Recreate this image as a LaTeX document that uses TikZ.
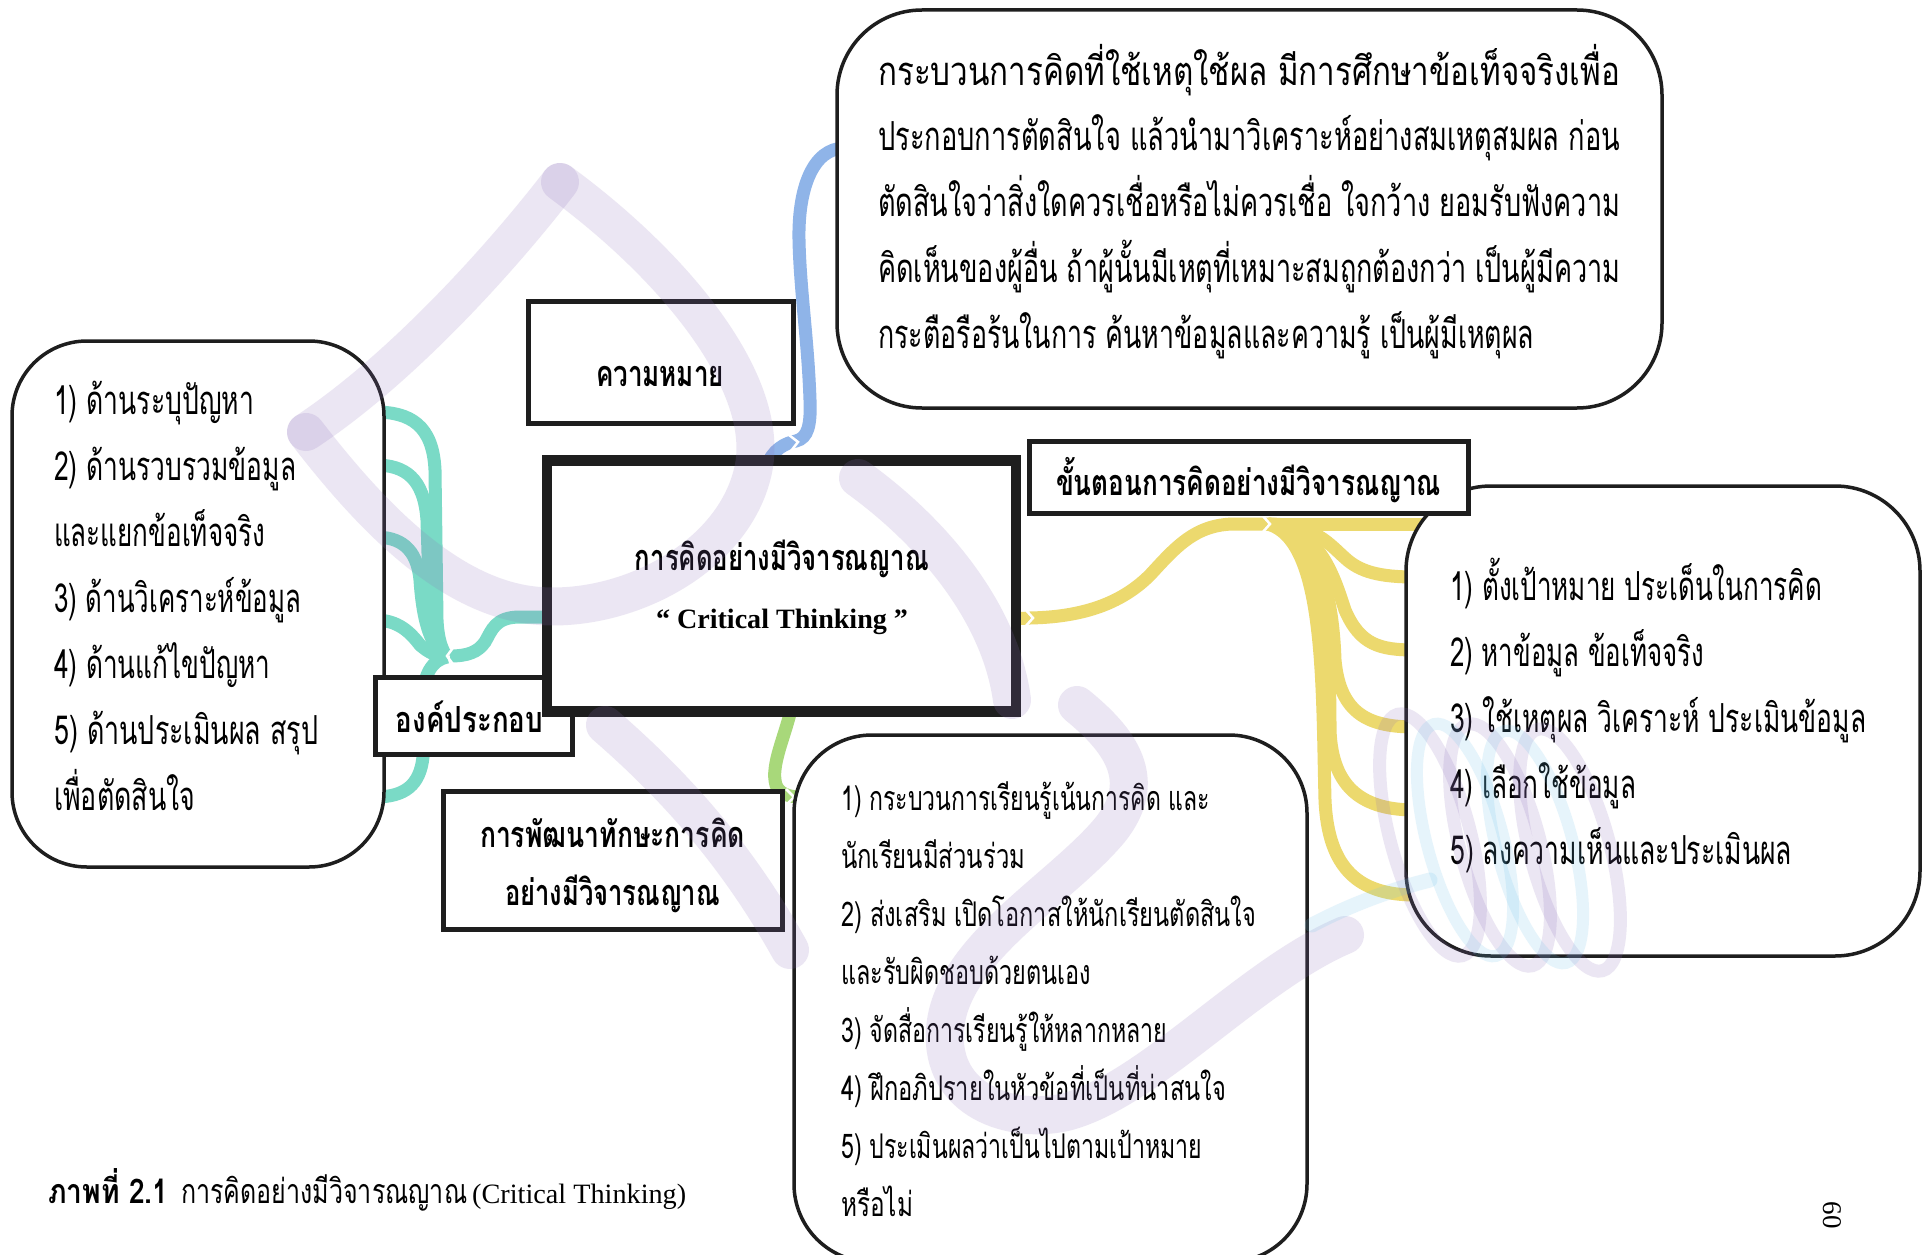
\documentclass[tikz,border=0pt]{standalone}
\usepackage{fontspec}
\usepackage{graphicx}
\setmainfont{Liberation Serif}
\newfontfamily\thr[Script=Thai]{Loma}
\usetikzlibrary{calc}
\definecolor{cblue}{RGB}{143,180,232}
\definecolor{cteal}{RGB}{122,218,198}
\definecolor{cyel}{RGB}{236,217,110}
\definecolor{cgreen}{RGB}{168,216,122}
\definecolor{wmlav}{RGB}{140,110,185}
\definecolor{wmblue}{RGB}{110,195,235}
\definecolor{ink}{RGB}{30,30,30}
\newcommand\fw[2]{\resizebox{#1pt}{\height}{#2}}
\tikzset{
  branch/.style={line width=13pt, line cap=butt},
  notch/.style={draw=white, line width=2.5pt},
  sqbox/.style={draw=ink, line width=5pt, fill=white, inner sep=0pt},
  rbox/.style={draw=ink, line width=3.5pt, fill=white, inner sep=0pt, rounded corners=85pt},
  wm/.style={draw=wmlav, line width=38pt, opacity=0.17, line cap=round},
  txt/.style={anchor=base west, inner sep=0pt, font={\thr\fontsize{40}{40}\selectfont}},
  stxt/.style={anchor=base west, inner sep=0pt, font={\thr\fontsize{34}{34}\selectfont}},
  btxt/.style={anchor=base, inner sep=0pt, font={\thr\bfseries\fontsize{36}{36}\selectfont}},
}
\begin{document}
\begin{tikzpicture}[x=1pt,y=-1pt]
\useasboundingbox (0,0) rectangle (1922,1255);
\fill[white] (0,0) rectangle (1922,1255);

% ---------- connectors ----------
\draw[branch, cblue] (767,466) .. controls (772,450) and (785,443) .. (796,441)
   .. controls (808,438) and (811,425) .. (810,400)
   .. controls (808,340) and (800,290) .. (799,240)
   .. controls (798,190) and (812,148) .. (845,148);
\draw[branch, cteal] (552,617) -- (520,617) .. controls (495,617) and (492,630) .. (485,642)
   .. controls (478,652) and (468,656) .. (450,656);
\draw[branch, cteal] (375,412) .. controls (410,412) and (433,425) .. (435,470) -- (437,620) .. controls (438,640) and (442,650) .. (447,657);
\draw[branch, cteal] (375,465) .. controls (405,465) and (424,478) .. (427,520) -- (430,620) .. controls (432,640) and (438,652) .. (447,657);
\draw[branch, cteal] (375,537) .. controls (400,537) and (417,548) .. (420,580) .. controls (423,625) and (432,648) .. (447,657);
\draw[branch, cteal] (375,620) .. controls (398,620) and (410,632) .. (420,645) .. controls (428,652) and (437,657) .. (447,657);
\draw[branch, cteal] (375,797) .. controls (405,797) and (420,785) .. (423,757) -- (423,700) .. controls (423,675) and (432,660) .. (447,657);
\draw[branch, cyel] (1010,619) -- (1030,618) .. controls (1080,617) and (1120,605) .. (1150,575)
   .. controls (1175,548) and (1195,524) .. (1235,524) -- (1268,524);
\draw[branch, cyel] (1268,524) -- (1422,524);
\draw[branch, cyel] (1268,524) .. controls (1315,524) and (1330,545) .. (1345,558) .. controls (1360,572) and (1380,577) .. (1415,577);
\draw[branch, cyel] (1268,524) .. controls (1320,526) and (1335,580) .. (1345,610) .. controls (1360,645) and (1380,650) .. (1415,650);
\draw[branch, cyel] (1268,524) .. controls (1320,530) and (1333,600) .. (1335,660) .. controls (1340,715) and (1370,727) .. (1415,727);
\draw[branch, cyel] (1268,524) .. controls (1325,535) and (1330,640) .. (1330,730) .. controls (1332,790) and (1365,810) .. (1415,810);
\draw[branch, cyel] (1268,524) .. controls (1325,540) and (1322,680) .. (1325,800) .. controls (1328,870) and (1360,895) .. (1415,895);
\draw[branch, cgreen] (792,705) .. controls (786,735) and (770,765) .. (776,785) .. controls (779,793) and (788,797) .. (800,797);
\draw[notch] (455,645) -- (447,656) -- (455,667);
\draw[notch] (1262,515) -- (1270,524) -- (1262,533);
\draw[notch] (1025,609) -- (1033,618) -- (1025,627);
\draw[notch] (789,435) -- (798,442) -- (791,451);
\draw[notch] (786,789) -- (794,797) -- (786,805);

% ---------- boxes ----------
\node[rbox, minimum width=825pt, minimum height=398pt] (meanbox) at (1249.5,209) {};
\node[rbox, minimum width=372pt, minimum height=526pt, rounded corners=75pt] (compbox) at (198,604) {};
\node[rbox, minimum width=514pt, minimum height=470pt] (stepbox) at (1663,721) {};
\node[rbox, minimum width=513pt, minimum height=527pt, rounded corners=78pt] (devbox) at (1050.5,998.5) {};
\node[sqbox, minimum width=197.5pt, minimum height=77pt] (comp) at (473.75,716) {};
\node[sqbox, minimum width=265pt, minimum height=122pt] (mean) at (661,362.5) {};
\node[sqbox, minimum width=439pt, minimum height=72pt] (steps) at (1248.5,477) {};
\node[sqbox, minimum width=339pt, minimum height=138.5pt] (dev) at (613,860.25) {};
\node[sqbox, line width=10.5pt, minimum width=469pt, minimum height=251pt] (ctr) at (781.5,586) {};

% ---------- texts ----------
\node[btxt] (ctrA) at (782,570) {\fw{294}{การคิดอย่างมีวิจารณญาณ}};
\node[anchor=base, inner sep=0pt, font={\bfseries\fontsize{28}{28}\selectfont}] (ctrB) at (782,628) {\fw{252}{“ Critical Thinking ”}};
\node[btxt] (meanT) at (660,386) {\fw{128}{ความหมาย}};
\node[btxt] (stepsT) at (1248.5,495) {\fw{385}{ขั้นตอนการคิดอย่างมีวิจารณญาณ}};
\node[btxt] (compT) at (469.5,732) {\fw{147}{องค์ประกอบ}};
\node[btxt] (devA) at (612.5,847) {\fw{265}{การพัฒนาทักษะการคิด}};
\node[btxt] (devB) at (612.5,905) {\fw{215}{อย่างมีวิจารณญาณ}};

\foreach \w/\t [count=\i from 0] in {742/กระบวนการคิดที่ใช้เหตุใช้ผล มีการศึกษาข้อเท็จจริงเพื่อ,
  742/ประกอบการตัดสินใจ แล้วนำมาวิเคราะห์อย่างสมเหตุสมผล ก่อน,
  742/ตัดสินใจว่าสิ่งใดควรเชื่อหรือไม่ควรเชื่อ ใจกว้าง ยอมรับฟังความ,
  742/คิดเห็นของผู้อื่น ถ้าผู้นั้นมีเหตุที่เหมาะสมถูกต้องกว่า เป็นผู้มีความ,
  656/กระตือรือร้นในการ ค้นหาข้อมูลและความรู้ เป็นผู้มีเหตุผล}
  \node[txt] (mt\i) at (878,{85+65.75*\i}) {\fw{\w}{\t}};

\foreach \w/\t [count=\i from 0] in {200/1) ด้านระบุปัญหา, 242/2) ด้านรวบรวมข้อมูล, 211/และแยกข้อเท็จจริง,
  247/3) ด้านวิเคราะห์ข้อมูล, 216/4) ด้านแก้ไขปัญหา, 264/5) ด้านประเมินผล สรุป, 141/เพื่อตัดสินใจ}
  \node[txt] (ct\i) at (54,{414+66*\i}) {\fw{\w}{\t}};

\foreach \w/\t [count=\i from 0] in {372/1) ตั้งเป้าหมาย ประเด็นในการคิด, 254/2) หาข้อมูล ข้อเท็จจริง,
  416/3) ใช้เหตุผล วิเคราะห์ ประเมินข้อมูล, 186/4) เลือกใช้ข้อมูล, 342/5) ลงความเห็นและประเมินผล}
  \node[txt] (st\i) at (1450,{600+66.2*\i}) {\fw{\w}{\t}};

\foreach \w/\t [count=\i from 0] in {369/1) กระบวนการเรียนรู้เน้นการคิด และ, 184/นักเรียนมีส่วนร่วม,
  415/2) ส่งเสริม เปิดโอกาสให้นักเรียนตัดสินใจ, 250/และรับผิดชอบด้วยตนเอง,
  326/3) จัดสื่อการเรียนรู้ให้หลากหลาย, 385/4) ฝึกอภิปรายในหัวข้อที่เป็นที่น่าสนใจ,
  361/5) ประเมินผลว่าเป็นไปตามเป้าหมาย, 72/หรือไม่}
  \node[stxt] (dt\i) at (841,{810+58*\i}) {\fw{\w}{\t}};

% caption and page number
\node[anchor=base west, inner sep=0pt, font={\thr\bfseries\fontsize{34}{34}\selectfont}] (capA) at (48,1203) {\fw{120}{ภาพที่ 2.1}};
\node[anchor=base west, inner sep=0pt, font={\thr\fontsize{34}{34}\selectfont}] (capB) at (181,1203) {\fw{286}{การคิดอย่างมีวิจารณญาณ}};
\node[anchor=base west, inner sep=0pt, font={\fontsize{28}{28}\selectfont}] (capC) at (472,1203) {\fw{214}{(Critical Thinking)}};
\node[rotate=-90, inner sep=0pt, font={\fontsize{27}{27}\selectfont}] (pnum) at (1832,1215) {60};

% ---------- watermark ----------
\draw[wm] (306,432) .. controls (400,370) and (500,260) .. (560,182);
\draw[wm] (560,182) .. controls (680,270) and (775,390) .. (752,475) .. controls (730,560) and (625,612) .. (540,606) .. controls (450,600) and (370,515) .. (306,432);
\draw[wm] (858,478) .. controls (930,530) and (1000,610) .. (1012,700);
\draw[wm] (1077,705) .. controls (1120,740) and (1150,780) .. (1110,830) .. controls (1060,890) and (950,950) .. (945,1030) .. controls (940,1100) and (1010,1125) .. (1066,1112) .. controls (1150,1090) and (1250,975) .. (1345,935);
\draw[wm] (605,725) .. controls (680,790) and (740,860) .. (790,950);
\foreach \cx/\cy in {1430/835, 1500/845, 1570/850}
  \draw[wm, line width=13pt] (\cx,\cy) ellipse [x radius=40, y radius=125, rotate=15];
\foreach \cx/\cy in {1465/840, 1535/847}
  \draw[wm, draw=wmblue, line width=12pt] (\cx,\cy) ellipse [x radius=38, y radius=120, rotate=15];
\draw[wm, draw=wmblue, line width=15pt] (1312,925) .. controls (1350,905) and (1390,890) .. (1430,880);
\end{tikzpicture}
\end{document}
